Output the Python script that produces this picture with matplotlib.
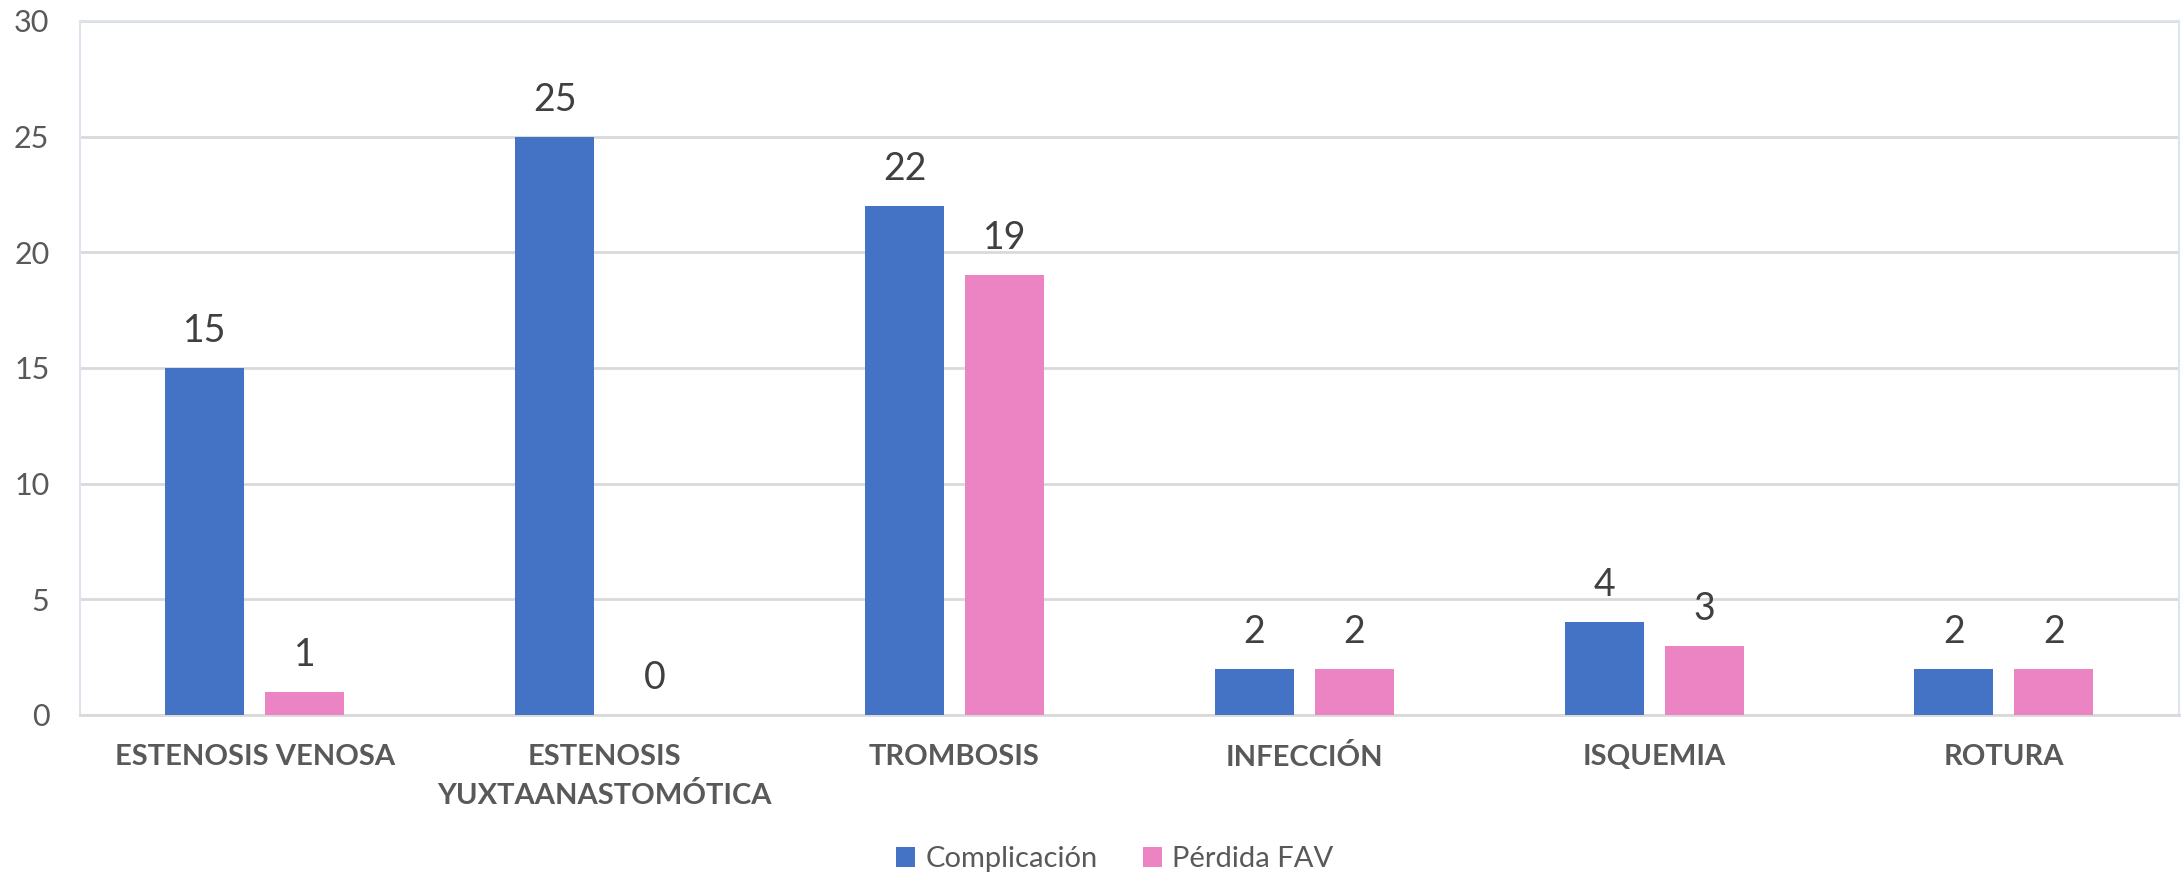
import matplotlib.pyplot as plt
import numpy as np

categorias = ['ESTENOSIS VENOSA', 'ESTENOSIS\nYUXTAANASTOMÓTICA', 'TROMBOSIS',
              'INFECCIÓN', 'ISQUEMIA', 'ROTURA']
complicacion = [15, 25, 22, 2, 4, 2]
perdida_fav = [1, 0, 19, 2, 3, 2]
series = ['Complicación', 'Pérdida FAV']
colores = ['#4472C4', '#EC84C4']

plt.rcParams['font.family'] = ['Lato', 'DejaVu Sans']

fig = plt.figure(figsize=(21.81, 8.74), dpi=100)
ax = fig.add_axes([0.0367, 0.182, 0.9623, 0.794])

x = np.arange(len(categorias))
ancho = 0.226
desp = 0.143

for valores, color, nombre, signo in zip([complicacion, perdida_fav], colores, series, [-1, 1]):
    barras = ax.bar(x + signo * desp, valores, width=ancho, color=color, label=nombre, zorder=3)
    for b, v in zip(barras, valores):
        ax.annotate(str(v), (b.get_x() + b.get_width() / 2, v), xytext=(0, 37),
                    textcoords='offset pixels', ha='center', va='center',
                    fontsize=27, color='#404040')

ax.set_xlim(-0.5, len(categorias) - 0.5)
ax.set_ylim(0, 30)
ax.set_yticks(range(0, 31, 5))
ax.yaxis.grid(True, color='#D9D9D9', linewidth=2, zorder=0)
ax.set_axisbelow(True)

ax.tick_params(axis='y', length=0, labelsize=22, labelcolor='#595959', pad=22)
ax.tick_params(axis='x', length=0, pad=21)
ax.set_xticks(x)
ax.set_xticklabels(categorias, fontsize=21, fontweight='bold', color='#595959',
                   linespacing=1.55, va='top')

for lado in ['left', 'top', 'right']:
    ax.spines[lado].set_color('#DCE4F2')
    ax.spines[lado].set_linewidth(1.5)
ax.spines['bottom'].set_color('#D9D9D9')
ax.spines['bottom'].set_linewidth(2)

fig.legend(loc='center', bbox_to_anchor=(0.511, 0.017), ncol=2, frameon=False,
           fontsize=21, handlelength=0.65, handleheight=0.65, handletextpad=0.35,
           columnspacing=1.55, labelcolor='#595959')

fig.savefig('out.png', dpi=100)
